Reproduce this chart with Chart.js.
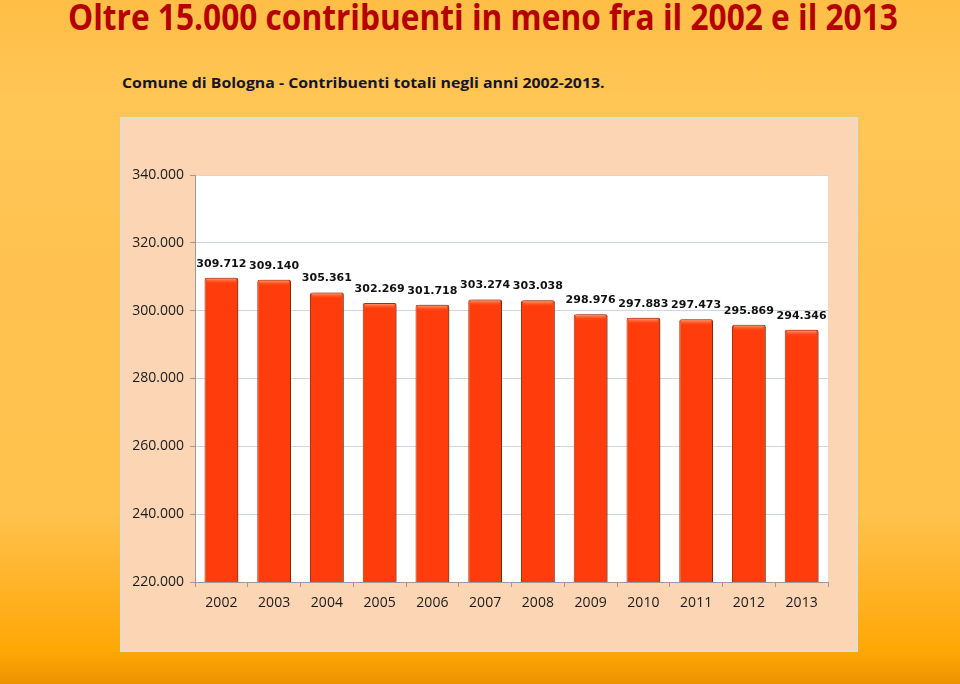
<!DOCTYPE html>
<html>
<head>
<meta charset="utf-8">
<script src="https://cdn.jsdelivr.net/npm/chart.js@4.4.1/dist/chart.umd.min.js"></script>
<style>
  html, body { margin: 0; padding: 0; }
  body {
    width: 960px; height: 684px; overflow: hidden; position: relative;
    background: linear-gradient(to bottom, #ffbe46 0%, #ffc656 15%, #ffc250 40%, #ffc24c 75%, #ffb42a 85%, #ffa806 95%, #ec9200 100%);
    font-family: "Open Sans", sans-serif;
  }
  .txt { position: absolute; white-space: nowrap; transform-origin: 0 50%; }
  #title { left: 68px; top: -3px; font-size: 35px; line-height: 40px; color: #b50000; font-weight: 700; }
  #subtitle { left: 122px; top: 72px; font-size: 15px; line-height: 20px; color: #15152c; font-weight: 700; }
  #frame {
    position: absolute; left: 120px; top: 117px; width: 738px; height: 535px;
    box-sizing: border-box; border: 2px solid #e2dbd6; background: #fbd5b4;
  }
  #wrap { position: absolute; left: 0; top: 0; width: 734px; height: 531px; }
</style>
</head>
<body>
<div id="title" class="txt">Oltre 15.000 contribuenti in meno fra il 2002 e il 2013</div>
<div id="subtitle" class="txt">Comune di Bologna - Contribuenti totali negli anni 2002-2013.</div>
<div id="frame"><div id="wrap"><canvas id="myChart"></canvas></div></div>
<script>
// dati
const years = ['2002', '2003', '2004', '2005', '2006', '2007', '2008', '2009', '2010', '2011', '2012', '2013'];
const contribuenti = [309712, 309140, 305361, 302269, 301718, 303274, 303038, 298976, 297883, 297473, 295869, 294346];
const yTicks = [220000, 240000, 260000, 280000, 300000, 320000, 340000];

// stretch the headings to the reference width
function fitWidth(id, w) {
  const el = document.getElementById(id);
  el.style.transform = 'scaleX(' + (w / el.offsetWidth) + ')';
}
fitWidth('title', 830);
fitWidth('subtitle', 483);

const fmt = v => String(v).replace(/\B(?=(\d{3})+(?!\d))/g, '.');

const barShadow = {
  id: 'barShadow',
  beforeDatasetsDraw(chart) {
    const ctx = chart.ctx;
    ctx.save();
    ctx.shadowColor = 'rgba(60,30,0,0.45)';
    ctx.shadowOffsetX = 3;
    ctx.shadowOffsetY = 0;
    ctx.shadowBlur = 3;
  },
  afterDatasetsDraw(chart) {
    const ctx = chart.ctx;
    ctx.restore();
    // top highlight + value labels
    const meta = chart.getDatasetMeta(0);
    ctx.save();
    meta.data.forEach((bar) => {
      const half = bar.width / 2;
      const g = ctx.createLinearGradient(0, bar.y, 0, bar.y + 6);
      g.addColorStop(0, 'rgba(255,190,150,0.9)');
      g.addColorStop(1, 'rgba(255,90,40,0)');
      ctx.fillStyle = g;
      ctx.fillRect(bar.x - half + 2, bar.y + 1, bar.width - 4, 6);
    });
    ctx.font = 'bold 11px "DejaVu Sans", Verdana, sans-serif';
    ctx.fillStyle = '#111';
    ctx.textAlign = 'center';
    ctx.textBaseline = 'middle';
    meta.data.forEach((bar, i) => {
      ctx.fillText(fmt(contribuenti[i]), bar.x, bar.y - 14);
    });
    ctx.restore();
  }
};

const plotBg = {
  id: 'plotBg',
  beforeDraw(chart) {
    const { ctx, chartArea: a } = chart;
    ctx.save();
    ctx.fillStyle = '#ffffff';
    ctx.fillRect(a.left, a.top, a.right - a.left, a.bottom - a.top);
    ctx.restore();
  }
};

function barFill(context) {
  const bar = context.element;
  const chart = context.chart;
  if (!bar || bar.x === undefined || !chart.chartArea) return '#ff3d0c';
  const half = (bar.width || 34) / 2;
  const g = chart.ctx.createLinearGradient(bar.x - half, 0, bar.x + half, 0);
  g.addColorStop(0, '#e83200');
  g.addColorStop(0.15, '#ff3d0a');
  g.addColorStop(0.8, '#ff3d0a');
  g.addColorStop(1, '#d22c00');
  return g;
}

new Chart(document.getElementById('myChart'), {
  type: 'bar',
  data: {
    labels: years,
    datasets: [{
      label: 'Contribuenti',
      data: contribuenti,
      backgroundColor: barFill,
      borderColor: '#b83000',
      borderWidth: 1,
      borderRadius: 2,
      borderSkipped: 'bottom',
      barPercentage: 0.64,
      categoryPercentage: 1
    }]
  },
  options: {
    responsive: true,
    maintainAspectRatio: false,
    animation: false,
    layout: { padding: { top: 56, right: 28, left: 0, bottom: 0 } },
    plugins: {
      legend: { display: false },
      tooltip: { enabled: false }
    },
    scales: {
      x: {
        afterFit(scale) { scale.height = 68; },
        grid: { display: true, drawOnChartArea: false, tickLength: 5, color: '#9a9a9a', offset: true },
        border: { color: '#9a9a9a' },
        ticks: { color: '#1a1a1a', padding: 8, font: { family: '"Open Sans", sans-serif', size: 14 } }
      },
      y: {
        min: 220000,
        max: 340000,
        afterFit(scale) { scale.width = 73; },
        afterBuildTicks(scale) { scale.ticks = yTicks.map(v => ({ value: v })); },
        grid: { color: '#cfd7e3', tickLength: 5, tickColor: '#9a9a9a' },
        border: { color: '#9a9a9a' },
        ticks: {
          color: '#1a1a1a', padding: 6,
          font: { family: '"Open Sans", sans-serif', size: 14 },
          callback: v => fmt(v)
        }
      }
    }
  },
  plugins: [plotBg, barShadow]
});
</script>
</body>
</html>
